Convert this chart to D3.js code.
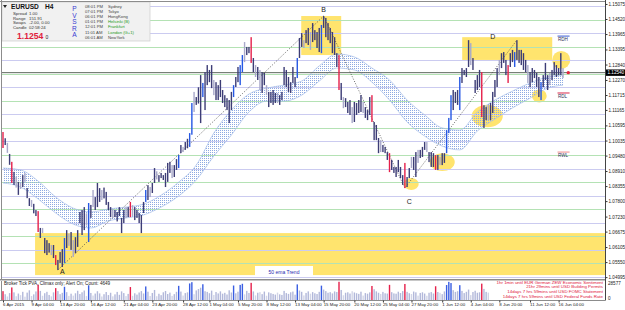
<!DOCTYPE html>
<html>
<head>
<meta charset="utf-8">
<script src="https://cdn.jsdelivr.net/npm/d3@7"></script>
<style>
  html, body { margin: 0; padding: 0; background: #fff; overflow: hidden; }
  svg { display: block; }
</style>
</head>
<body>
<div id="chart"></div>
<script>
// EURUSD H4, bar highs / lows
const highs = [
  1.1035, 1.1012, 1.0995, 1.0954, 1.0925, 1.0888, 1.0870, 1.0851, 1.0847, 1.0876,
  1.0884, 1.0828, 1.0791, 1.0784, 1.0770, 1.0747, 1.0743, 1.0681, 1.0681, 1.0644,
  1.0636, 1.0625, 1.0618, 1.0618, 1.0581, 1.0563, 1.0592, 1.0603, 1.0644, 1.0673,
  1.0660, 1.0666, 1.0636, 1.0647, 1.0673, 1.0740, 1.0747, 1.0758, 1.0735, 1.0773,
  1.0766, 1.0821, 1.0795, 1.0847, 1.0828, 1.0821, 1.0830, 1.0814, 1.0777, 1.0758,
  1.0751, 1.0747, 1.0740, 1.0758, 1.0718, 1.0747, 1.0758, 1.0758, 1.0777, 1.0765,
  1.0758, 1.0747, 1.0736, 1.0729, 1.0777, 1.0821, 1.0839, 1.0832, 1.0847, 1.0902,
  1.0890, 1.0876, 1.0884, 1.0876, 1.0884, 1.0921, 1.0925, 1.0913, 1.0913, 1.0935,
  1.0950, 1.0987, 1.0980, 1.0998, 1.1010, 1.1031, 1.1142, 1.1183, 1.1164, 1.1200, 1.1245,
  1.1216, 1.1256, 1.1282, 1.1264, 1.1282, 1.1227, 1.1219, 1.1208, 1.1227, 1.1190,
  1.1171, 1.1160, 1.1153, 1.1183, 1.1208, 1.1238, 1.1275, 1.1282, 1.1319, 1.1367,
  1.1349, 1.1349, 1.1385, 1.1308, 1.1282, 1.1275, 1.1264, 1.1256, 1.1253, 1.1208,
  1.1183, 1.1183, 1.1190, 1.1179, 1.1179, 1.1171, 1.1183, 1.1275, 1.1264, 1.1238,
  1.1219, 1.1275, 1.1238, 1.1308, 1.1382, 1.1400, 1.1374, 1.1411, 1.1419, 1.1404,
  1.1437, 1.1411, 1.1404, 1.1419, 1.1430, 1.1463, 1.1456, 1.1437, 1.1419, 1.1404,
  1.1385, 1.1326, 1.1319, 1.1216, 1.1164, 1.1160, 1.1146, 1.1153, 1.1127, 1.1146,
  1.1142, 1.1153, 1.1171, 1.1146, 1.1127, 1.1116, 1.1164, 1.1171, 1.1072, 1.1061,
  1.1013, 1.1005, 1.0987, 1.0980, 1.0961, 1.0957, 1.0932, 1.0906, 1.0906, 1.0932,
  1.0906, 1.0876, 1.0921, 1.0869, 1.0902, 1.0943, 1.0943, 1.0961, 1.0969, 1.0969,
  1.0980, 1.0998, 1.0998, 1.0961, 1.0961, 1.0957, 1.0950, 1.0950, 1.0943, 1.0957,
  1.0957, 1.1042, 1.1087, 1.1171, 1.1190, 1.1183, 1.1190, 1.1238, 1.1271, 1.1264,
  1.1271, 1.1374, 1.1363, 1.1308, 1.1227, 1.1245, 1.1264, 1.1256, 1.1134, 1.1127,
  1.1134, 1.1142, 1.1183, 1.1227, 1.1271, 1.1301, 1.1326, 1.1330, 1.1301, 1.1282,
  1.1326, 1.1338, 1.1330, 1.1374, 1.1338, 1.1338, 1.1326, 1.1301, 1.1282, 1.1256,
  1.1271, 1.1264, 1.1253, 1.1238, 1.1219, 1.1245, 1.1290, 1.1245, 1.1253, 1.1264,
  1.1293, 1.1282, 1.1271, 1.1326, 1.1271
];
const lows = [
  1.0976, 1.0987, 1.0958, 1.0914, 1.0847, 1.0840, 1.0830, 1.0803, 1.0825, 1.0832,
  1.0851, 1.0791, 1.0762, 1.0758, 1.0735, 1.0725, 1.0666, 1.0644, 1.0662, 1.0588,
  1.0581, 1.0590, 1.0581, 1.0570, 1.0544, 1.0526, 1.0552, 1.0537, 1.0552, 1.0607,
  1.0615, 1.0600, 1.0574, 1.0588, 1.0611, 1.0699, 1.0655, 1.0673, 1.0690, 1.0629,
  1.0718, 1.0758, 1.0747, 1.0758, 1.0777, 1.0784, 1.0790, 1.0766, 1.0747, 1.0721,
  1.0718, 1.0721, 1.0705, 1.0725, 1.0662, 1.0699, 1.0718, 1.0721, 1.0721, 1.0725,
  1.0710, 1.0718, 1.0699, 1.0662, 1.0736, 1.0777, 1.0784, 1.0795, 1.0810, 1.0847,
  1.0860, 1.0851, 1.0865, 1.0858, 1.0832, 1.0851, 1.0884, 1.0865, 1.0869, 1.0895,
  1.0902, 1.0957, 1.0961, 1.0969, 1.0975, 1.0980, 1.1025, 1.1109, 1.1135, 1.1140, 1.1068,
  1.1164, 1.1116, 1.1208, 1.1219, 1.1197, 1.1171, 1.1153, 1.1153, 1.1164, 1.1142,
  1.1127, 1.1116, 1.1068, 1.1116, 1.1164, 1.1201, 1.1219, 1.1208, 1.1256, 1.1293,
  1.1319, 1.1326, 1.1290, 1.1256, 1.1238, 1.1227, 1.1190, 1.1179, 1.1208, 1.1171,
  1.1127, 1.1142, 1.1135, 1.1142, 1.1142, 1.1135, 1.1153, 1.1208, 1.1201, 1.1183,
  1.1179, 1.1216, 1.1201, 1.1234, 1.1308, 1.1349, 1.1345, 1.1363, 1.1356, 1.1338,
  1.1367, 1.1374, 1.1345, 1.1330, 1.1326, 1.1419, 1.1385, 1.1374, 1.1363, 1.1326,
  1.1319, 1.1275, 1.1190, 1.1153, 1.1123, 1.1127, 1.1105, 1.1098, 1.1068, 1.1072,
  1.1098, 1.1105, 1.1109, 1.1105, 1.1087, 1.1079, 1.1098, 1.1072, 1.1005, 1.1005,
  1.0957, 1.0961, 1.0961, 1.0957, 1.0932, 1.0887, 1.0895, 1.0884, 1.0869, 1.0887,
  1.0865, 1.0840, 1.0828, 1.0832, 1.0865, 1.0902, 1.0895, 1.0869, 1.0921, 1.0939,
  1.0943, 1.0969, 1.0961, 1.0924, 1.0906, 1.0906, 1.0895, 1.0895, 1.0913, 1.0913,
  1.0921, 1.0957, 1.1031, 1.1079, 1.1116, 1.1142, 1.1135, 1.1116, 1.1216, 1.1245,
  1.1238, 1.1275, 1.1282, 1.1264, 1.1179, 1.1190, 1.1201, 1.1090, 1.1050, 1.1079,
  1.1079, 1.1079, 1.1105, 1.1164, 1.1201, 1.1245, 1.1271, 1.1290, 1.1245, 1.1216,
  1.1275, 1.1293, 1.1275, 1.1301, 1.1290, 1.1282, 1.1264, 1.1256, 1.1216, 1.1201,
  1.1219, 1.1234, 1.1201, 1.1164, 1.1153, 1.1201, 1.1227, 1.1190, 1.1208, 1.1227,
  1.1245, 1.1238, 1.1245, 1.1245, 1.1234
];
// PVA bar class: d = normal, g = low volume, b = rising/bull climax, r = bear climax
const barType = (
  "rdgdrdgdgdgddgdd" + "rdgdddgdrdddbdgd" + "gdddddgbdgdddgdd" + "ddgdddddgdrgdddd" +
  "dbdgddgddddddgdd" + "bdgddbbgdddbdddd" + "gddddddddbddbbgd" + "drdgdgddgddddgdd" +
  "ddddddbddgddgddd" + "dbdddddddrdgdddg" + "ddddgdddrdddgddd" + "rddddddrddgddgdd" +
  "dgdddrdgddbbbddd" + "bddddgddddrddgdd" + "ddgdddrddbdddddg" + "dddddbdddgdddddg"
).split("");

// tick volume per bar (lower window)
const volumes = [
  13300, 8700, 5300, 10400, 18900, 11500, 5700, 9700, 7300, 12300, 5000, 11100, 14600, 6000, 8500, 12900,
  23100, 13700, 6400, 10200, 12300, 7600, 5500, 11500, 17900, 13400, 8800, 10800, 19900, 11800, 6200, 9500,
  6600, 10100, 13900, 9000, 11600, 14300, 5900, 22100, 10600, 6700, 9700, 13200, 9900, 5300, 8700, 12000,
  7400, 10900, 5500, 8500, 12200, 7800, 13000, 10400, 5900, 9200, 19500, 6300, 10100, 8100, 11300, 13400,
  9800, 20400, 12500, 6000, 10600, 15100, 5700, 9400, 7300, 11600, 13600, 9000, 11100, 6200, 8800, 12300,
  21300, 12700, 6700, 10400, 11500, 24900, 26800, 8700, 14400, 16500, 18500, 23700, 13200, 12200, 10200, 14100,
  7600, 12000, 9900, 13000, 9500, 10800, 8300, 14600, 11300, 21800, 10100, 12500, 22700, 24400, 8500, 13700,
  10600, 25800, 12900, 6900, 10900, 11800, 8800, 12700, 6400, 11500, 10200, 9100, 8100, 11100, 8500, 7600,
  13700, 10400, 9200, 11600, 12700, 8000, 23500, 14300, 12300, 6900, 10600, 13000, 9500, 11900, 10100, 9000,
  12300, 21600, 15700, 13400, 10900, 11800, 9900, 12900, 12000, 27400, 15100, 7100, 10900, 11600, 9700, 13200,
  11300, 10200, 9200, 12500, 6700, 10400, 9500, 11500, 21100, 16200, 13000, 10900, 9000, 12200, 10100, 9700,
  22800, 11800, 9900, 9500, 12500, 10500, 13400, 24100, 12300, 10200, 9000, 12700, 11500, 6600, 10600, 11600,
  9700, 6400, 10900, 11900, 9800, 20700, 12000, 10800, 8800, 12900, 22500, 27300, 25500, 14800, 12200, 13200,
  22300, 13700, 10400, 12300, 15700, 7400, 12000, 13900, 10900, 11600, 24600, 16700, 12200, 11100, 13000, 11500,
  13400, 12300, 10400, 11300, 9700, 10800, 22000, 12000, 10500, 20900, 13600, 11600, 10100, 9500, 11100, 12000,
  10200, 11300, 9400, 10900, 11800, 20000, 12900, 11100, 9200, 11500, 10400, 9700, 12300, 10600, 13000, 4300
];
const volMax = 28577;

// 50 ema trend ribbon, edges read every 8 bars
const bandIdx = [0, 8, 16, 24, 32, 40, 48, 56, 64, 72, 80, 88, 96, 104, 112, 120, 128,
  136, 144, 152, 160, 168, 176, 184, 192, 200, 208, 216, 224, 232, 240, 248, 255];
const bandTop = [1.0902, 1.0895, 1.0854, 1.0795, 1.0754, 1.0740, 1.0751, 1.0758, 1.0769, 1.0802, 1.0850,
  1.0913, 1.1031, 1.1116, 1.1175, 1.1197, 1.1208, 1.1223, 1.1279, 1.1323, 1.1312, 1.1271,
  1.1227, 1.1153, 1.1098, 1.1050, 1.1042, 1.1109, 1.1153, 1.1186, 1.1216, 1.1238, 1.1245];
const bandBot = [1.0847, 1.0832, 1.0788, 1.0736, 1.0695, 1.0681, 1.0707, 1.0718, 1.0729, 1.0758, 1.0799,
  1.0858, 1.0946, 1.1024, 1.1109, 1.1149, 1.1149, 1.1171, 1.1223, 1.1271, 1.1264, 1.1219,
  1.1153, 1.1072, 1.1020, 1.0983, 1.0969, 1.1039, 1.1083, 1.1124, 1.1160, 1.1197, 1.1208];

const priceTicks = [1.15075, 1.14520, 1.13965, 1.13395, 1.12840, 1.12270, 1.11715, 1.11165,
  1.10595, 1.10035, 1.09480, 1.08910, 1.08355, 1.07800, 1.07230, 1.06675, 1.06105, 1.05550, 1.04995];
const lastPrice = 1.12540;

const timeLabels = ["6 Apr 2015", "9 Apr 04:00", "13 Apr 20:00", "16 Apr 12:00", "21 Apr 04:00",
  "23 Apr 20:00", "28 Apr 12:00", "1 May 04:00", "5 May 20:00", "8 May 12:00", "13 May 04:00",
  "15 May 20:00", "20 May 12:00", "25 May 04:00", "27 May 20:00", "1 Jun 12:00", "4 Jun 04:00",
  "8 Jun 20:00", "11 Jun 12:00", "16 Jun 04:00"];
const timeIdx = [0, 13, 26, 40, 55, 68, 82, 94, 107, 120, 133, 146, 160, 173, 186, 200, 213, 226, 240, 253];

// drawn objects: swings, zones, ellipses, daily/weekly levels
const swingIdx = [25, 146, 183, 234];
const swingPrice = [1.0526, 1.1463, 1.0828, 1.1374];
const letterText = ["A", "B", "C", "D"];
const letterIdx = [27, 146, 185, 223];
const letterPrice = [1.0526, 1.1463, 1.0828, 1.1385];

const zoneFrom = [14.6, 135.8, 209.1];
const zoneTo = [274.5, 154.0, 250.1];
const zoneTop = [1.0662, 1.1463, 1.1385];
const zoneBot = [1.0507, 1.1319, 1.1301];

const circIdx = [185.9, 200.0, 220.5, 244.2, 254.2];
const circPrice = [1.0843, 1.0924, 1.1094, 1.1168, 1.1301];
const circBars = [3.4, 5.7, 7.1, 3.4, 4.1];
const circPips = [0.0022, 0.0033, 0.0041, 0.0024, 0.0033];

const levelName = ["RDH", "RDL", "RWL"];
const levelPrice = [1.1389, 1.1179, 1.0961];
const levelColor = ["#3b5bd0", "#d8284a", "#f08a8a"];

const newsLines = [
  "1hr 1min until EUR German ZEW Economic Sentiment",
  "21hr 29mins until USD Building Permits",
  "14days 7 hrs 59mins until USD FOMC Statement",
  "14days 7 hrs 59mins until USD Federal Funds Rate"
];

const clockTimes = ["08:01 PM", "07:01 PM", "06:01 PM", "01:01 PM", "12:01 PM", "11:01 AM", "06:01 AM"];
const clockCities = ["Sydney", "Tokyo", "HongKong", "Helsinki (B)", "Frankfurt", "London (G+1)", "NewYork"];
const clockGreen = [false, false, false, true, true, true, false];
const infoKeys = ["Spread", "Range", "Swaps", "Candle"];
const infoVals = ["1.00", "151.91", "-2.00, 0.00", "02:58:24"];

const W = 625, H = 310;
const chartL = 2, chartR = 605, chartT = 2, chartB = 279;
const volT = 281, volB = 300;
const FONT = '"Liberation Sans", Arial, sans-serif';

const barColor = { d: "#3d3d76", g: "#a9a9ca", b: "#2658e4", r: "#e5204b" };
const volColor = { d: "#b2b8da", g: "#d2d5e7", b: "#3a5ee2", r: "#e5204b" };

const x = d3.scaleLinear().domain([0, highs.length - 1]).range([3, 563]);
const y = d3.scaleLinear().domain([1.05, 1.15]).range([277, 6]);
const v = d3.scaleLinear().domain([0, volMax]).range([volB, volT]);

const svg = d3.select("#chart").append("svg")
  .attr("width", W).attr("height", H)
  .style("font-family", FONT);

svg.append("rect").attr("width", W).attr("height", H).attr("fill", "#fff");

const defs = svg.append("defs");
defs.append("clipPath").attr("id", "mainClip").append("rect")
  .attr("x", chartL).attr("y", chartT).attr("width", chartR - chartL).attr("height", chartB - chartT);
// sparse dot grid for the ribbon
const pat = defs.append("pattern").attr("id", "dots")
  .attr("width", 2).attr("height", 2).attr("patternUnits", "userSpaceOnUse");
pat.append("rect").attr("width", 1).attr("height", 1).attr("fill", "#8eaae2");

const main = svg.append("g").attr("clip-path", "url(#mainClip)");

// yellow zones and ellipses sit in the background
main.append("g").selectAll("rect").data(zoneFrom).join("rect")
  .attr("x", (d) => x(d))
  .attr("width", (d, i) => x(zoneTo[i]) - x(d))
  .attr("y", (d, i) => y(zoneTop[i]))
  .attr("height", (d, i) => y(zoneBot[i]) - y(zoneTop[i]))
  .attr("fill", "#ffe46e");

main.append("g").selectAll("ellipse").data(circIdx).join("ellipse")
  .attr("cx", (d) => x(d))
  .attr("cy", (d, i) => y(circPrice[i]))
  .attr("rx", (d, i) => x(d + circBars[i]) - x(d))
  .attr("ry", (d, i) => y(circPrice[i] - circPips[i]) - y(circPrice[i]))
  .attr("fill", "#ffe46e");

// round-number grid every 50 pips
main.append("g").selectAll("line").data(d3.range(1.05, 1.1501, 0.005)).join("line")
  .attr("x1", chartL).attr("x2", chartR)
  .attr("y1", (d) => Math.round(y(d)) + 0.5).attr("y2", (d) => Math.round(y(d)) + 0.5)
  .attr("stroke", (d, i) => i % 2 ? "#b4e2b4" : "#cbcbf0");

// ema ribbon
const area = d3.area()
  .x((d, i) => x(bandIdx[i]))
  .y0((d, i) => y(bandBot[i]))
  .y1((d, i) => y(bandTop[i]))
  .curve(d3.curveMonotoneX);
main.append("path").datum(bandIdx).attr("d", area).attr("fill", "url(#dots)");
[bandTop, bandBot].forEach(edge => {
  main.append("path").datum(bandIdx)
    .attr("d", d3.line().x((d, i) => x(bandIdx[i])).y((d, i) => y(edge[i])).curve(d3.curveMonotoneX))
    .attr("fill", "none").attr("stroke", "#a4bce8").attr("stroke-width", 0.7);
});

// bid line
main.append("line")
  .attr("x1", chartL).attr("x2", chartR)
  .attr("y1", y(lastPrice)).attr("y2", y(lastPrice))
  .attr("stroke", "#5e685e").attr("stroke-width", 1);

// A-B-C-D swing lines
main.append("path").datum(swingIdx)
  .attr("d", d3.line().x((d) => x(d)).y((d, i) => y(swingPrice[i])))
  .attr("fill", "none").attr("stroke", "#444").attr("stroke-width", 0.8)
  .attr("stroke-dasharray", "1,1.6");

// price bars
main.append("g").selectAll("rect").data(highs).join("rect")
  .attr("x", (d, i) => x(i) - 0.7).attr("width", 1.4)
  .attr("y", (d) => y(d))
  .attr("height", (d, i) => Math.max(1, y(lows[i]) - y(d)))
  .attr("fill", (d, i) => barColor[barType[i]]);

// daily / weekly levels
const lev = main.append("g");
lev.selectAll("line").data(levelPrice).join("line")
  .attr("x1", x(252.5)).attr("x2", x(258))
  .attr("y1", (d) => y(d)).attr("y2", (d) => y(d))
  .attr("stroke", (d, i) => levelColor[i]).attr("stroke-width", 1);
lev.selectAll("text").data(levelName).join("text")
  .attr("x", x(252.7)).attr("y", (d, i) => y(levelPrice[i]) + 5)
  .attr("font-size", 4.6).attr("fill", "#30305a").text((d) => d);

main.append("circle")
  .attr("cx", x(257.4)).attr("cy", y(lastPrice)).attr("r", 1.7).attr("fill", "#e8203c");

main.append("g").selectAll("text").data(letterText).join("text")
  .attr("x", (d, i) => x(letterIdx[i]))
  .attr("y", (d, i) => y(letterPrice[i]) + [4.5, -4, 16, 2][i])
  .attr("text-anchor", "middle").attr("font-size", 7).attr("fill", "#222")
  .text((d) => d);

// label on the bottom zone
main.append("rect").attr("x", 255).attr("y", 266).attr("width", 58).attr("height", 10.5).attr("fill", "#fff");
main.append("text").attr("x", 284).attr("y", 274).attr("text-anchor", "middle")
  .attr("font-size", 5).attr("fill", "#2828b0").text("50 ema Trend");

// info panel top left
const info = svg.append("g");
info.append("rect").attr("x", 2).attr("y", 2).attr("width", 148).attr("height", 39)
  .attr("fill", "#f1f1f1").attr("stroke", "#d2d2d2").attr("stroke-width", 0.8);
info.append("path").attr("d", "M3,5 L7,5 L5,8 Z").attr("fill", "#222");
info.append("text").attr("x", 11).attr("y", 9).attr("font-size", 6.6).attr("font-weight", "bold")
  .attr("fill", "#111").text("EURUSD");
info.append("text").attr("x", 45).attr("y", 9).attr("font-size", 6.6).attr("font-weight", "bold")
  .attr("fill", "#111").text("H4");
infoKeys.forEach((k, i) => {
  info.append("text").attr("x", 13).attr("y", 15 + i * 4.5).attr("font-size", 4.3).attr("fill", "#333").text(k);
  info.append("text").attr("x", 29).attr("y", 15 + i * 4.5).attr("font-size", 4.3).attr("fill", "#333").text(infoVals[i]);
});
info.append("text").attr("x", 17).attr("y", 38.5).attr("font-size", 8.6).attr("font-weight", "bold")
  .attr("fill", "#e0203c").text("1.1254");
info.append("text").attr("x", 45.5).attr("y", 38.5).attr("font-size", 5).attr("fill", "#222").text("0");
"PVSRA".split("").forEach((c, i) => {
  info.append("text").attr("x", 74.5).attr("y", 11 + i * 6.6).attr("text-anchor", "middle")
    .attr("font-size", 6.6).attr("fill", "#3a3ad2").text(c);
});
clockTimes.forEach((t, i) => {
  const col = clockGreen[i] ? "#1c9a1c" : "#444";
  info.append("text").attr("x", 85).attr("y", 7.6 + i * 5.2).attr("font-size", 4.2).attr("fill", "#444").text(t);
  info.append("text").attr("x", 108).attr("y", 7.6 + i * 5.2).attr("font-size", 4.2).attr("fill", col).text(clockCities[i]);
});

// volume window
svg.append("g").selectAll("rect").data(volumes).join("rect")
  .attr("x", (d, i) => x(i) - 0.7).attr("width", 1.4)
  .attr("y", (d) => v(d)).attr("height", (d) => volB - v(d))
  .attr("fill", (d, i) => volColor[barType[i]]);
svg.append("text").attr("x", 4).attr("y", 285).attr("font-size", 4.6).attr("fill", "#1a1a1a")
  .text("Broker Tick PVA, Climax only;  Alert On;  Count: 4649");

svg.append("rect").attr("x", 489).attr("y", 280.5).attr("width", 115).attr("height", 19.5).attr("fill", "#fff");
svg.append("g").selectAll("text").data(newsLines).join("text")
  .attr("x", 603).attr("y", (d, i) => 283.5 + i * 4.7)
  .attr("text-anchor", "end").attr("font-size", 4.4).attr("fill", "#e0143c")
  .text((d) => d);

// frames
const frame = svg.append("g").attr("fill", "none");
frame.append("line").attr("x1", 0).attr("x2", chartR).attr("y1", 1.5).attr("y2", 1.5).attr("stroke", "#8c8c8c");
frame.append("line").attr("x1", 1.5).attr("x2", 1.5).attr("y1", 0).attr("y2", volB + 0.5).attr("stroke", "#8c8c8c");
frame.append("line").attr("x1", chartR + 0.5).attr("x2", chartR + 0.5).attr("y1", 0).attr("y2", volB + 0.5).attr("stroke", "#444");
frame.append("line").attr("x1", 0).attr("x2", chartR).attr("y1", chartB + 0.5).attr("y2", chartB + 0.5).attr("stroke", "#8c8c8c");
frame.append("line").attr("x1", 0).attr("x2", chartR).attr("y1", volT - 0.5).attr("y2", volT - 0.5).attr("stroke", "#c8c8c8");
frame.append("line").attr("x1", 0).attr("x2", chartR).attr("y1", volB + 0.5).attr("y2", volB + 0.5).attr("stroke", "#8c8c8c");

// price scale
const yAxis = svg.append("g").attr("transform", `translate(${chartR + 0.5},0)`)
  .call(d3.axisRight(y).tickValues(priceTicks).tickFormat(d3.format(".5f")).tickSize(2).tickPadding(1));
yAxis.select(".domain").remove();
yAxis.attr("font-size", 4.6).attr("font-family", FONT);
yAxis.selectAll("line").attr("stroke", "#333");
yAxis.selectAll("text").attr("fill", "#222");

svg.append("rect").attr("x", 606).attr("y", y(lastPrice) - 3.2).attr("width", 19).attr("height", 6.4).attr("fill", "#000");
svg.append("text").attr("x", 607.5).attr("y", y(lastPrice) + 1.7).attr("font-size", 4.6)
  .attr("fill", "#fff").text(d3.format(".5f")(lastPrice));

svg.append("text").attr("x", 608).attr("y", 284.5).attr("font-size", 4.6).attr("fill", "#222").text(volMax);
svg.append("text").attr("x", 608).attr("y", 299.5).attr("font-size", 4.6).attr("fill", "#222").text("0");

// time scale
const xAxis = svg.append("g").attr("transform", `translate(0,${volB + 0.5})`)
  .call(d3.axisBottom(x).tickValues(timeIdx).tickFormat((d, i) => timeLabels[i]).tickSize(2).tickPadding(0));
xAxis.select(".domain").remove();
xAxis.attr("font-size", 4.4).attr("font-family", FONT);
xAxis.selectAll("line").attr("stroke", "#333");
xAxis.selectAll("text").attr("text-anchor", "start").attr("dx", -0.5).attr("fill", "#222");
</script>
</body>
</html>
